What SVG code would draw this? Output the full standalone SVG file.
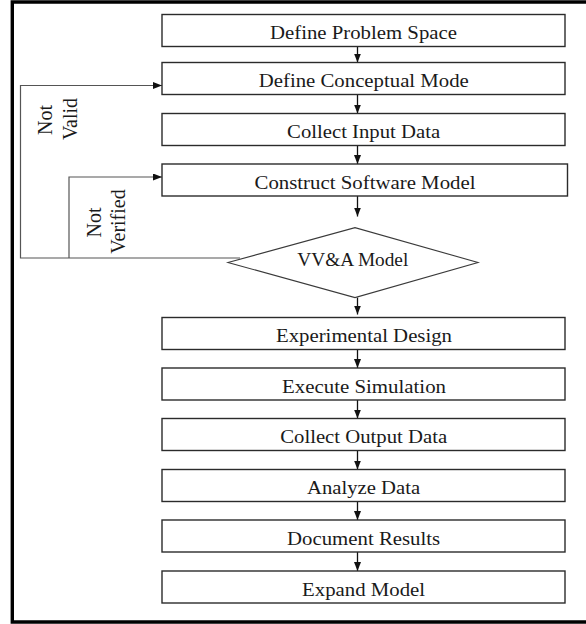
<svg xmlns="http://www.w3.org/2000/svg" width="586" height="624" viewBox="0 0 586 624">
  <style>
    .box { fill: #ffffff; stroke: #2b2b2b; stroke-width: 1.4; }
    .dia { fill: #ffffff; stroke: #3a3a3a; stroke-width: 1.1; }
    .lbl { font-family: "Liberation Serif", "Times New Roman", serif; font-size: 19.5px; fill: #1a1a1a; text-anchor: middle; }
    .side { font-family: "Liberation Serif", "Times New Roman", serif; font-size: 20px; fill: #1a1a1a; text-anchor: middle; }
    .flow { fill: none; stroke: #111111; stroke-width: 1.3; }
    .loop { fill: none; stroke: #555555; stroke-width: 1.2; }
  </style>
  <defs>
    <marker id="head" markerUnits="userSpaceOnUse" markerWidth="9" markerHeight="7" refX="9" refY="3.5" orient="auto">
      <path d="M0,0 L9,3.5 L0,7 z" fill="#111111"/>
    </marker>
  </defs>

  <rect width="586" height="624" fill="#ffffff"/>
  <!-- frame -->
  <path d="M586,2 H12.3 V622 H586" fill="none" stroke="#000000" stroke-width="3.4"/>

  <!-- connectors -->
  <g id="connectors">
    <line class="flow" x1="357.5" y1="46.5" x2="357.5" y2="62.5" marker-end="url(#head)"/>
    <line class="flow" x1="357.5" y1="94.5" x2="357.5" y2="113.5" marker-end="url(#head)"/>
    <line class="flow" x1="357.5" y1="145.5" x2="357.5" y2="164" marker-end="url(#head)"/>
    <line class="flow" x1="357.5" y1="196" x2="357.5" y2="216.5" marker-end="url(#head)"/>
    <line class="flow" x1="357.5" y1="297.6" x2="357.5" y2="314.5" marker-end="url(#head)"/>
    <line class="flow" x1="357.5" y1="349.5" x2="357.5" y2="368" marker-end="url(#head)"/>
    <line class="flow" x1="357.5" y1="400" x2="357.5" y2="418.5" marker-end="url(#head)"/>
    <line class="flow" x1="357.5" y1="450.5" x2="357.5" y2="469.5" marker-end="url(#head)"/>
    <line class="flow" x1="357.5" y1="501.5" x2="357.5" y2="520" marker-end="url(#head)"/>
    <line class="flow" x1="357.5" y1="552" x2="357.5" y2="571" marker-end="url(#head)"/>
    <!-- feedback loops from the VV&A decision -->
    <path class="loop" d="M240,258 H20.5 V85.5 H162" marker-end="url(#head)"/>
    <path class="loop" d="M69,258 V177 H162" marker-end="url(#head)"/>
    <text class="side" transform="translate(52,120) rotate(-90)">Not</text>
    <text class="side" transform="translate(76.5,119) rotate(-90)">Valid</text>
    <text class="side" transform="translate(101,222.5) rotate(-90)">Not</text>
    <text class="side" transform="translate(125,221.5) rotate(-90)">Verified</text>
  </g>

  <g id="define-problem-space">
    <rect class="box" x="162" y="14.5" width="403" height="32"/>
    <text class="lbl" x="363.5" y="39" textLength="187" lengthAdjust="spacingAndGlyphs">Define Problem Space</text>
  </g>
  <g id="define-conceptual-mode">
    <rect class="box" x="162" y="62.5" width="403" height="32"/>
    <text class="lbl" x="363.8" y="87" textLength="210" lengthAdjust="spacingAndGlyphs">Define Conceptual Mode</text>
  </g>
  <g id="collect-input-data">
    <rect class="box" x="162" y="113.5" width="403" height="32"/>
    <text class="lbl" x="363.6" y="138" textLength="153" lengthAdjust="spacingAndGlyphs">Collect Input Data</text>
  </g>
  <g id="construct-software-model">
    <rect class="box" x="162" y="164" width="405.5" height="32"/>
    <text class="lbl" x="365" y="188.5" textLength="221" lengthAdjust="spacingAndGlyphs">Construct Software Model</text>
  </g>
  <g id="vva-model">
    <polygon class="dia" points="228,262.5 355,227.6 478,262.5 355,297.6"/>
    <text class="lbl" x="352.8" y="266" textLength="111" lengthAdjust="spacingAndGlyphs">VV&amp;A Model</text>
  </g>
  <g id="experimental-design">
    <rect class="box" x="162" y="317.5" width="403" height="32"/>
    <text class="lbl" x="364" y="341.5" textLength="176" lengthAdjust="spacingAndGlyphs">Experimental Design</text>
  </g>
  <g id="execute-simulation">
    <rect class="box" x="162" y="368" width="403" height="32"/>
    <text class="lbl" x="364" y="392.5" textLength="164" lengthAdjust="spacingAndGlyphs">Execute Simulation</text>
  </g>
  <g id="collect-output-data">
    <rect class="box" x="162" y="418.5" width="403" height="32"/>
    <text class="lbl" x="363.7" y="443" textLength="167" lengthAdjust="spacingAndGlyphs">Collect Output Data</text>
  </g>
  <g id="analyze-data">
    <rect class="box" x="162" y="469.5" width="403" height="32"/>
    <text class="lbl" x="363.6" y="494" textLength="113" lengthAdjust="spacingAndGlyphs">Analyze Data</text>
  </g>
  <g id="document-results">
    <rect class="box" x="162" y="520" width="403" height="32"/>
    <text class="lbl" x="363.6" y="544.5" textLength="153" lengthAdjust="spacingAndGlyphs">Document Results</text>
  </g>
  <g id="expand-model">
    <rect class="box" x="162" y="571" width="403" height="32"/>
    <text class="lbl" x="363.6" y="595.5" textLength="123" lengthAdjust="spacingAndGlyphs">Expand Model</text>
  </g>
</svg>
